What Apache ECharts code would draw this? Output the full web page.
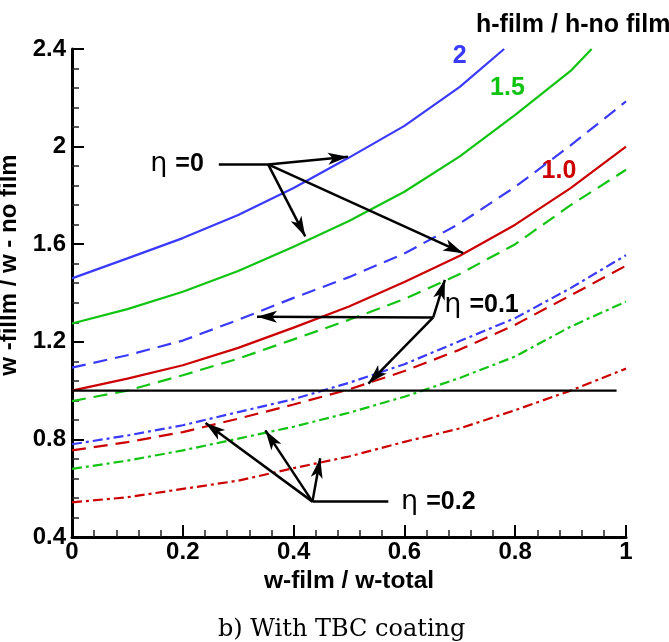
<!DOCTYPE html>
<html lang="en">
<head>
<meta charset="UTF-8">
<title>w-film / w-total, with TBC coating</title>
<script src="https://cdn.jsdelivr.net/npm/echarts@6/dist/echarts.min.js"></script>
<style>
  html, body { margin: 0; padding: 0; background: #fff; }
</style>
</head>
<body>
<div id="main" style="width: 669px; height: 642px;"></div>
<script type="text/javascript">
    // x positions where the curves were read
    var xs = [0, 0.1, 0.2, 0.3, 0.4, 0.5, 0.6, 0.7, 0.8, 0.9, 1];

    // eta = 0 (solid)  -- h ratio 2 and 1.5 leave the top of the plot, so x,y pairs
    var h2Eta0 = [[0, 1.46], [0.1, 1.542], [0.2, 1.625], [0.3, 1.72], [0.4, 1.83], [0.5, 1.955], [0.6, 2.085], [0.7, 2.245], [0.78, 2.4]];
    var h15Eta0 = [[0, 1.275], [0.1, 1.334], [0.2, 1.405], [0.3, 1.49], [0.4, 1.59], [0.5, 1.695], [0.6, 1.815], [0.7, 1.96], [0.8, 2.13], [0.9, 2.31], [0.938, 2.4]];
    var h1Eta0 = [1.0, 1.049, 1.104, 1.175, 1.258, 1.345, 1.445, 1.553, 1.68, 1.83, 2.0];

    // eta = 0.1 (dashed)
    var h2Eta1 = [1.094, 1.145, 1.205, 1.29, 1.38, 1.465, 1.562, 1.685, 1.835, 2.005, 2.185];
    var h15Eta1 = [0.957, 1.0, 1.063, 1.131, 1.21, 1.29, 1.375, 1.478, 1.6, 1.76, 1.905];
    var h1Eta1 = [0.755, 0.789, 0.83, 0.885, 0.943, 1.005, 1.08, 1.168, 1.27, 1.39, 1.512];

    // eta = 0.2 (dash-dot)
    var h2Eta2 = [0.78, 0.816, 0.858, 0.912, 0.965, 1.032, 1.108, 1.203, 1.297, 1.42, 1.555];
    var h15Eta2 = [0.679, 0.713, 0.755, 0.803, 0.852, 0.909, 0.975, 1.052, 1.14, 1.262, 1.365];
    var h1Eta2 = [0.542, 0.563, 0.597, 0.631, 0.682, 0.73, 0.79, 0.845, 0.92, 1.0, 1.09];

    // reference line w-film = w-no film
    var unity = [[0, 1], [0.983, 1]];

    // leader lines: [x1, y1, x2, y2, arrow at end?]
    var eta0Leaders = [
        [0.265, 1.927, 0.354, 1.927, 0],
        [0.354, 1.927, 0.498, 1.958, 1],
        [0.354, 1.927, 0.421, 1.632, 1],
        [0.354, 1.927, 0.706, 1.563, 1]
    ];
    var eta1Leaders = [
        [0.652, 1.3, 0.334, 1.303, 1],
        [0.652, 1.3, 0.673, 1.454, 1],
        [0.652, 1.3, 0.535, 1.029, 1]
    ];
    var eta2Leaders = [
        [0.434, 0.545, 0.571, 0.545, 0],
        [0.434, 0.545, 0.241, 0.867, 1],
        [0.434, 0.545, 0.349, 0.837, 1],
        [0.434, 0.545, 0.448, 0.723, 1]
    ];

    // text labels: [x, y, text]
    var etaLabels = [[0.238, 1.927, '0'], [0.672, 1.35, '0.1'], [0.594, 0.545, '0.2']];
    var ratioLabels = [[0.70, 2.371, '2'], [0.786, 2.239, '1.5'], [0.879, 1.899, '1.0']];

    var blue = '#3a3aff', green = '#11c411', red = '#cc0000';
    var ratioColors = [blue, green, red];
    var dashed = [14, 8];
    var dashDot = [10, 4, 3, 4];

    function withX(ys) {
        return ys.map(function (y, i) { return [xs[i], y]; });
    }

    function curve(name, pts, color, type) {
        return {
            name: name,
            type: 'line',
            data: pts,
            showSymbol: false,
            symbol: 'none',
            smooth: false,
            silent: true,
            lineStyle: { color: color, width: 2.2, type: type }
        };
    }

    function leaderData(list) {
        return list.map(function (l) {
            return [
                { coord: [l[0], l[1]], symbol: 'none' },
                { coord: [l[2], l[3]], symbol: l[4] ? 'arrow' : 'none' }
            ];
        });
    }

    var myChart = echarts.init(document.getElementById('main'), null, { renderer: 'canvas' });

    var font = 'Liberation Sans, Arial, sans-serif';

    var option = {
        animation: false,
        backgroundColor: '#fff',
        title: [
            {
                text: 'h-film / h-no film',
                left: 471, top: 8,
                textStyle: { fontFamily: font, fontWeight: 'bold', fontSize: 25, color: '#000' }
            },
            {
                text: 'b) With TBC coating',
                left: 213, top: 613,
                textStyle: { fontFamily: 'DejaVu Serif, serif', fontWeight: 'normal', fontSize: 24, color: '#000' }
            }
        ],
        grid: { left: 72, right: 43, top: 49, bottom: 105, containLabel: false, outerBoundsMode: 'none' },
        xAxis: {
            type: 'value',
            min: 0, max: 1, interval: 0.2,
            name: 'w-film / w-total',
            nameLocation: 'middle',
            nameGap: 30,
            nameTextStyle: { fontFamily: font, fontWeight: 'bold', fontSize: 24.5, color: '#000' },
            axisLine: { show: true, onZero: false, lineStyle: { color: '#000', width: 3 } },
            axisTick: { show: true, inside: true, length: 12, lineStyle: { color: '#000', width: 2 } },
            minorTick: { show: true, splitNumber: 5, length: 7, lineStyle: { color: '#222', width: 1.5 } },
            splitLine: { show: false },
            axisLabel: { fontFamily: font, fontWeight: 'bold', fontSize: 24, color: '#000', margin: 3 }
        },
        yAxis: {
            type: 'value',
            min: 0.4, max: 2.4, interval: 0.4,
            name: 'w -fillm / w - no film',
            nameLocation: 'middle',
            nameGap: 37,
            nameTextStyle: { fontFamily: font, fontWeight: 'bold', fontSize: 24, color: '#000', padding: [0, 0, 0, 56] },
            axisLine: { show: true, onZero: false, lineStyle: { color: '#000', width: 3 } },
            axisTick: { show: true, inside: true, length: 12, lineStyle: { color: '#000', width: 2 } },
            minorTick: { show: true, splitNumber: 5, length: 7, lineStyle: { color: '#222', width: 1.5 } },
            splitLine: { show: false },
            axisLabel: { fontFamily: font, fontWeight: 'bold', fontSize: 24, color: '#000', margin: 6 }
        },
        series: [
            curve('2, eta=0', h2Eta0, blue, 'solid'),
            curve('1.5, eta=0', h15Eta0, green, 'solid'),
            curve('1.0, eta=0', withX(h1Eta0), red, 'solid'),
            curve('2, eta=0.1', withX(h2Eta1), blue, dashed),
            curve('1.5, eta=0.1', withX(h15Eta1), green, dashed),
            curve('1.0, eta=0.1', withX(h1Eta1), red, dashed),
            curve('2, eta=0.2', withX(h2Eta2), blue, dashDot),
            curve('1.5, eta=0.2', withX(h15Eta2), green, dashDot),
            curve('1.0, eta=0.2', withX(h1Eta2), red, dashDot),
            curve('unity', unity, '#000', 'solid'),
            {
                name: 'leaders',
                type: 'line',
                data: [],
                silent: true,
                markLine: {
                    silent: true,
                    animation: false,
                    symbolSize: [9, 20],
                    label: { show: false },
                    emphasis: { disabled: true },
                    lineStyle: { color: '#000', width: 2.5, type: 'solid', opacity: 1 },
                    itemStyle: { color: '#000', opacity: 1 },
                    data: leaderData(eta0Leaders).concat(leaderData(eta1Leaders), leaderData(eta2Leaders))
                }
            },
            {
                name: 'eta labels',
                type: 'scatter',
                silent: true,
                symbolSize: 0,
                itemStyle: { opacity: 1 },
                data: etaLabels.map(function (d, i) {
                    return {
                        value: [d[0], d[1]],
                        label: { position: i === 0 ? 'left' : 'right' }
                    };
                }),
                label: {
                    show: true,
                    distance: 0,
                    opacity: 1,
                    formatter: function (p) { return '{eta|η}{v|=' + etaLabels[p.dataIndex][2] + '}'; },
                    rich: {
                        eta: { fontFamily: 'DejaVu Sans, sans-serif', fontSize: 27, color: '#000', padding: [0, 8, 0, 0] },
                        v: { fontFamily: font, fontWeight: 'bold', fontSize: 25, color: '#000' }
                    }
                }
            },
            {
                name: 'ratio labels',
                type: 'scatter',
                silent: true,
                symbolSize: 0,
                itemStyle: { opacity: 1 },
                data: ratioLabels.map(function (d, i) {
                    return {
                        value: [d[0], d[1]],
                        label: { color: ratioColors[i] }
                    };
                }),
                label: {
                    show: true,
                    opacity: 1,
                    position: 'inside',
                    formatter: function (p) { return ratioLabels[p.dataIndex][2]; },
                    fontFamily: font, fontWeight: 'bold', fontSize: 25
                }
            }
        ]
    };

    myChart.setOption(option);
</script>
</body>
</html>
